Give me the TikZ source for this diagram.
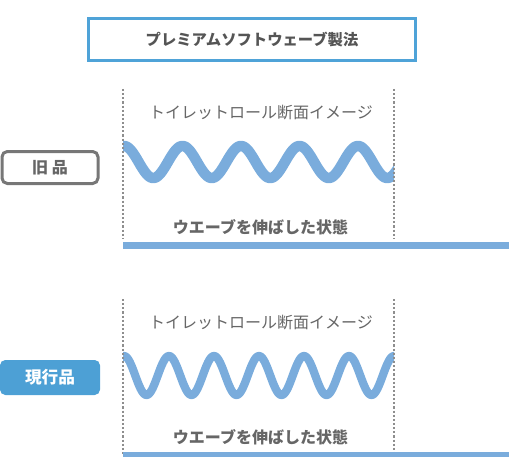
\documentclass[tikz,border=0pt]{standalone}
\usepackage{fontspec}
\setmainfont{Noto Sans CJK JP}
\newfontfamily\jp{Noto Sans CJK JP}
\usetikzlibrary{positioning}
\definecolor{framblue}{HTML}{4FA3D8}
\definecolor{tagblue}{HTML}{4DA0D5}
\definecolor{waveblue}{HTML}{7AACDC}
\definecolor{textgray}{HTML}{666666}
\definecolor{titlegray}{HTML}{555555}
\definecolor{dotgray}{HTML}{8E8E8E}
\definecolor{tagborder}{HTML}{777777}

\begin{document}
\begin{tikzpicture}[
		x=0.75pt, y=-0.75pt,
		titlebox/.style={rectangle, draw=framblue, line width=2.25pt, fill=white,
			minimum width=245.25pt, minimum height=31.5pt, font=\jp\bfseries\fontsize{11.5}{13}\selectfont, text=titlegray},
		oldtag/.style={rectangle, rounded corners=4pt, draw=tagborder, line width=2.25pt,
			minimum width=72pt, minimum height=24pt, font=\jp\bfseries\fontsize{12}{14}\selectfont, text=textgray},
		newtag/.style={rectangle, rounded corners=4pt, fill=tagblue,
			minimum width=75pt, minimum height=26.25pt, font=\jp\bfseries\fontsize{12.5}{14}\selectfont, text=white},
		caption/.style={font=\jp\fontsize{12}{14}\selectfont, text=textgray},
		stretched/.style={font=\jp\bfseries\fontsize{12}{14}\selectfont, text=textgray},
		edge/.style={draw=dotgray, line width=2pt, dash pattern=on 1.6pt off 1.5pt},
		wave/.style={draw=waveblue, line width=7.9pt, line join=round},
		flat/.style={draw=waveblue, line width=5.25pt}
	]
	\useasboundingbox (0,0) rectangle (509,456);

	\node[titlebox] (title) at (252,39.5) {プレミアムソフトウェーブ製法};

	% old product
	\node[oldtag] (old) at (50,167.5) {旧 品};
	\coordinate (oldtl) at (123,89);
	\coordinate (oldbl) at (123,239);
	\coordinate (oldtr) at (394,89);
	\coordinate (oldbr) at (394,239);
	\begin{scope}
		\clip (oldtl) rectangle (oldbr);
		\draw[wave] plot[domain=115:402, samples=220] (\x, {162-16*cos((\x-124)/58.5*360)});
	\end{scope}
	\draw[edge] (oldtl) -- (oldbl);
	\draw[edge] (oldtr) -- (oldbr);
	\node[caption] (oldcap) at (261,113) {トイレットロール断面イメージ};
	\node[stretched] (oldlen) at (260.5,227) {ウエーブを伸ばした状態};
	\coordinate (oldstart) at (123,245);
	\coordinate (oldend) at (509,245);
	\draw[flat] (oldstart) -- (oldend);

	% current product
	\node[newtag] (new) at (50,377.5) {現行品};
	\coordinate (newtl) at (123,299);
	\coordinate (newbl) at (123,456);
	\coordinate (newtr) at (394,299);
	\coordinate (newbr) at (394,456);
	\begin{scope}
		\clip (newtl) rectangle (newbr);
		\draw[wave, line width=6.2pt] plot[domain=115:402, samples=260] (\x, {375.5-19.5*cos((\x-124)/45*360)});
	\end{scope}
	\draw[edge] (newtl) -- (newbl);
	\draw[edge] (newtr) -- (newbr);
	\node[caption] (newcap) at (261,323) {トイレットロール断面イメージ};
	\node[stretched] (newlen) at (260.5,437) {ウエーブを伸ばした状態};
	\coordinate (newstart) at (123,455);
	\coordinate (newend) at (509,455);
	\draw[flat] (newstart) -- (newend);
\end{tikzpicture}
\end{document}
